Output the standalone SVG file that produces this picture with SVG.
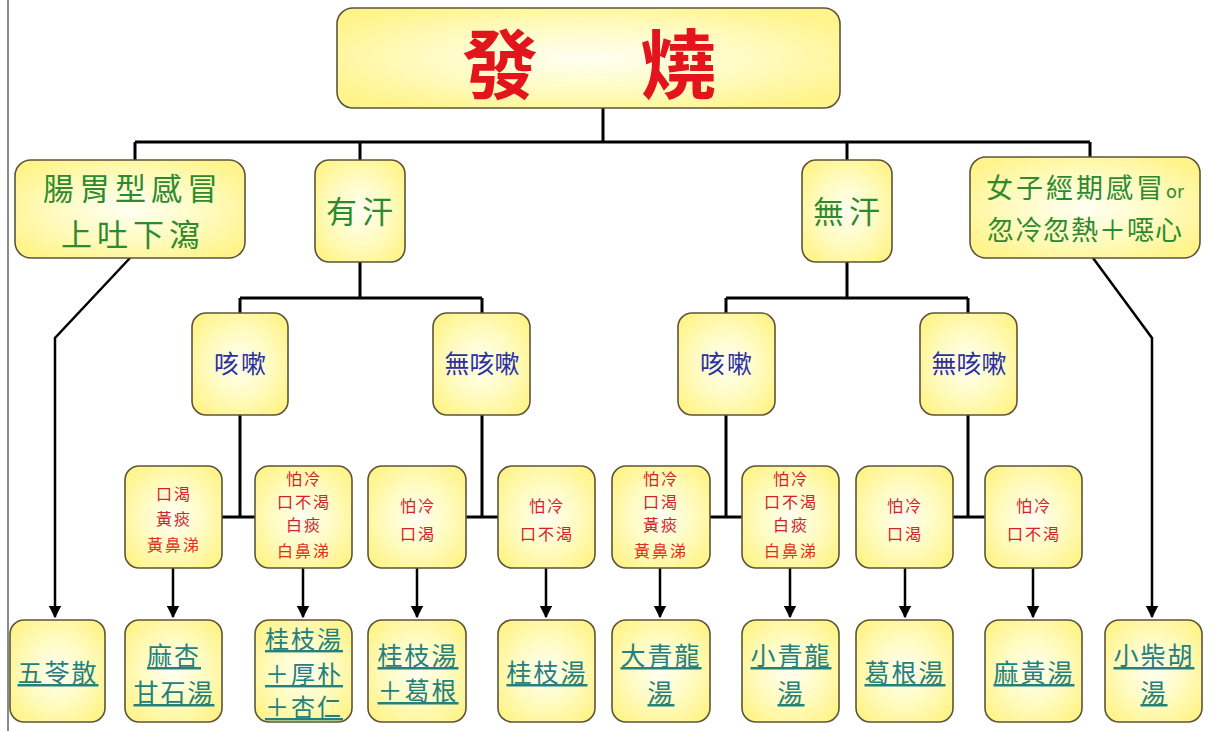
<svg xmlns="http://www.w3.org/2000/svg" width="1216" height="731" viewBox="0 0 1216 731">
<defs>
<radialGradient id="g" cx="50%" cy="50%" r="60%">
<stop offset="0" stop-color="#fffff2"/>
<stop offset="0.55" stop-color="#fffbc0"/>
<stop offset="1" stop-color="#fff48c"/>
</radialGradient>
<marker id="ar" viewBox="0 0 10 10" refX="9" refY="5" markerWidth="5" markerHeight="5" orient="auto" markerUnits="strokeWidth">
<path d="M0,0 L10,5 L0,10 z" fill="#000"/>
</marker>
</defs>
<style>
.b{fill:url(#g);stroke:#5d5438;stroke-width:1.6}
.t{font-family:"Noto Sans CJK TC","Noto Sans CJK SC",sans-serif;text-anchor:middle}
.root{fill:#e4141c;font-size:76px;font-weight:bold}
.l1{fill:#2f8a2f;font-size:31px;letter-spacing:5px}
.l2{fill:#2b2fa0;font-size:25px;letter-spacing:2px}
.l3{fill:#d4222a;font-size:16px;letter-spacing:2px}
.l3b{fill:#e0301a;font-size:16px;letter-spacing:2px}
.rx{fill:#25807c;font-size:25px;letter-spacing:2px;text-decoration:underline}
.c{fill:none;stroke:#000;stroke-width:3}
.a{fill:none;stroke:#000;stroke-width:2.5;marker-end:url(#ar)}
</style>
<rect x="0" y="0" width="1216" height="731" fill="#fff"/>
<line x1="8" y1="0" x2="8" y2="731" stroke="#8a8a8a" stroke-width="2"/>

<g id="connectors">
<path class="c" d="M603,108 V142 M135,142 H1090 M135,142 V160 M360,142 V160 M847,142 V160 M1090,142 V157"/>
<path class="c" d="M360,262 V298 M240,298 H482 M240,298 V313 M482,298 V313"/>
<path class="c" d="M847,262 V298 M726,298 H968 M726,298 V313 M968,298 V313"/>
<path class="c" d="M240,415 V517 M222,517 H255"/>
<path class="c" d="M482,415 V517 M466,517 H498"/>
<path class="c" d="M726,415 V517 M710,517 H742"/>
<path class="c" d="M968,415 V517 M953,517 H985"/>
<path class="a" d="M130,258 L55,338 V617"/>
<path class="a" d="M1093,258 L1152,338 V617"/>
<path class="a" d="M173,568 V617"/>
<path class="a" d="M303,568 V617"/>
<path class="a" d="M417,568 V617"/>
<path class="a" d="M546,568 V617"/>
<path class="a" d="M660,568 V617"/>
<path class="a" d="M790,568 V617"/>
<path class="a" d="M905,568 V617"/>
<path class="a" d="M1033,568 V617"/>
</g>

<g id="root"><rect class="b" x="337" y="8" width="503" height="100" rx="16"/>
<text class="t root" x="500" y="93">發</text><text class="t root" x="678" y="93">燒</text></g>

<g id="n-gut"><rect class="b" x="15" y="160" width="230" height="98" rx="16"/>
<text class="t l1" x="133" y="200">腸胃型感冒</text><text class="t l1" x="133" y="246">上吐下瀉</text></g>
<g id="n-sweat"><rect class="b" x="315" y="160" width="90" height="102" rx="14"/>
<text class="t l1" x="362" y="223">有汗</text></g>
<g id="n-nosweat"><rect class="b" x="802" y="160" width="90" height="102" rx="14"/>
<text class="t l1" x="849" y="223">無汗</text></g>
<g id="n-women"><rect class="b" x="970" y="157" width="230" height="101" rx="16"/>
<text class="t" x="1085" y="198" style="fill:#2f8a2f;font-size:27px;letter-spacing:3px">女子經期感冒<tspan style="font-size:18px;letter-spacing:0">or</tspan></text>
<text class="t" x="1085" y="240" style="fill:#2f8a2f;font-size:27px;letter-spacing:1px">忽冷忽熱＋噁心</text></g>

<g id="n-cough1"><rect class="b" x="192" y="313" width="96" height="102" rx="14"/>
<text class="t l2" x="241" y="373">咳嗽</text></g>
<g id="n-nocough1"><rect class="b" x="433" y="313" width="97" height="102" rx="14"/>
<text class="t l2" x="482" y="373" style="letter-spacing:0">無咳嗽</text></g>
<g id="n-cough2"><rect class="b" x="678" y="313" width="97" height="102" rx="14"/>
<text class="t l2" x="727" y="373">咳嗽</text></g>
<g id="n-nocough2"><rect class="b" x="920" y="313" width="97" height="102" rx="14"/>
<text class="t l2" x="969" y="373" style="letter-spacing:0">無咳嗽</text></g>

<g id="s1"><rect class="b" x="125" y="466" width="97" height="102" rx="14"/>
<text class="t l3" x="174" y="500">口渴</text><text class="t l3" x="174" y="525">黃痰</text><text class="t l3b" x="174" y="551">黃鼻涕</text></g>
<g id="s2"><rect class="b" x="255" y="466" width="97" height="102" rx="14"/>
<text class="t l3" x="304" y="485">怕冷</text><text class="t l3" x="304" y="508">口不渴</text><text class="t l3" x="304" y="531">白痰</text><text class="t l3b" x="304" y="557">白鼻涕</text></g>
<g id="s3"><rect class="b" x="368" y="466" width="98" height="102" rx="14"/>
<text class="t l3" x="418" y="512">怕冷</text><text class="t l3" x="418" y="540">口渴</text></g>
<g id="s4"><rect class="b" x="498" y="466" width="97" height="102" rx="14"/>
<text class="t l3" x="547" y="512">怕冷</text><text class="t l3" x="547" y="540">口不渴</text></g>
<g id="s5"><rect class="b" x="612" y="466" width="98" height="102" rx="14"/>
<text class="t l3" x="661" y="485">怕冷</text><text class="t l3" x="661" y="508">口渴</text><text class="t l3" x="661" y="531">黃痰</text><text class="t l3b" x="661" y="557">黃鼻涕</text></g>
<g id="s6"><rect class="b" x="742" y="466" width="97" height="102" rx="14"/>
<text class="t l3" x="791" y="485">怕冷</text><text class="t l3" x="791" y="508">口不渴</text><text class="t l3" x="791" y="531">白痰</text><text class="t l3b" x="791" y="557">白鼻涕</text></g>
<g id="s7"><rect class="b" x="856" y="466" width="97" height="102" rx="14"/>
<text class="t l3" x="905" y="512">怕冷</text><text class="t l3" x="905" y="540">口渴</text></g>
<g id="s8"><rect class="b" x="985" y="466" width="97" height="102" rx="14"/>
<text class="t l3" x="1034" y="512">怕冷</text><text class="t l3" x="1034" y="540">口不渴</text></g>

<g id="r1"><rect class="b" x="10" y="620" width="95" height="102" rx="14"/>
<text class="t rx" x="58" y="682">五苓散</text></g>
<g id="r2"><rect class="b" x="125" y="620" width="97" height="102" rx="14"/>
<text class="t rx" x="174" y="665">麻杏</text><text class="t rx" x="174" y="702">甘石湯</text></g>
<g id="r3"><rect class="b" x="255" y="620" width="97" height="102" rx="14"/>
<text class="t rx" x="304" y="648" style="font-size:24px">桂枝湯</text><text class="t rx" x="304" y="683" style="font-size:24px">＋厚朴</text><text class="t rx" x="304" y="716" style="font-size:24px">＋杏仁</text></g>
<g id="r4"><rect class="b" x="368" y="620" width="98" height="102" rx="14"/>
<text class="t rx" x="418" y="665">桂枝湯</text><text class="t rx" x="418" y="700">＋葛根</text></g>
<g id="r5"><rect class="b" x="498" y="620" width="97" height="102" rx="14"/>
<text class="t rx" x="547" y="682">桂枝湯</text></g>
<g id="r6"><rect class="b" x="612" y="620" width="98" height="102" rx="14"/>
<text class="t rx" x="661" y="665">大青龍</text><text class="t rx" x="661" y="702">湯</text></g>
<g id="r7"><rect class="b" x="742" y="620" width="97" height="102" rx="14"/>
<text class="t rx" x="791" y="665">小青龍</text><text class="t rx" x="791" y="702">湯</text></g>
<g id="r8"><rect class="b" x="856" y="620" width="97" height="102" rx="14"/>
<text class="t rx" x="905" y="682">葛根湯</text></g>
<g id="r9"><rect class="b" x="985" y="620" width="97" height="102" rx="14"/>
<text class="t rx" x="1034" y="682">麻黃湯</text></g>
<g id="r10"><rect class="b" x="1105" y="620" width="97" height="102" rx="14"/>
<text class="t rx" x="1154" y="665">小柴胡</text><text class="t rx" x="1154" y="702">湯</text></g>
</svg>
